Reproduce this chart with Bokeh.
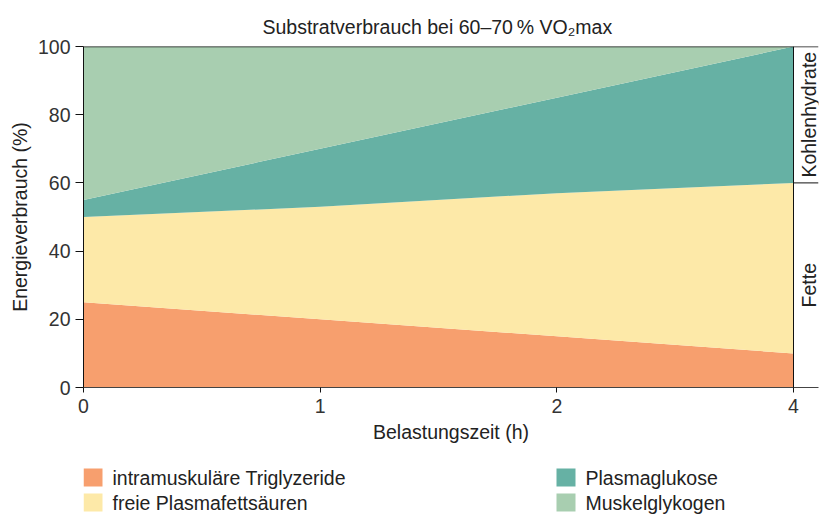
import numpy as np
from bokeh.plotting import figure
from bokeh.layouts import column
from bokeh.models import Range1d, Span, FixedTicker, ColumnDataSource
from bokeh.core.properties import value
from bokeh.embed import file_html
from bokeh.resources import INLINE

# ---- data ----
x_pos = [0, 1, 2, 3]
x_tick_labels = ["0", "1", "2", "4"]
triglyceride = [25, 20, 15, 10]
free_fatty_acids = [25, 33, 42, 50]
plasma_glucose = [5, 17, 28, 40]
muscle_glycogen = [45, 30, 15, 0]
series_names = ["intramuskuläre Triglyzeride", "freie Plasmafettsäuren",
                "Plasmaglukose", "Muskelglykogen"]
colors = ["#F79F6E", "#FDE9A8", "#66B1A4", "#A8CEB0"]
y_ticks = [0, 20, 40, 60, 80, 100]
title_text = "Substratverbrauch bei 60\u201370\u2009% VO\u2082max"
x_label = "Belastungszeit (h)"
y_label = "Energieverbrauch (%)"
group_labels = ["Kohlenhydrate", "Fette"]

FONT = "Liberation Sans"
FS = "19.5px"
TXT = "#222222"

keys = ["tri", "ffa", "glu", "gly"]
source = ColumnDataSource(dict(x=x_pos, tri=triglyceride, ffa=free_fatty_acids,
                               glu=plasma_glucose, gly=muscle_glycogen))

W = 822
MAIN_H = 451
LEG_H = 515 - MAIN_H
BL, BR, BT, BB = 83, 4, 46, 64
frame_w = W - BL - BR
data_w = 710.0
x_end = x_pos[-1] * frame_w / data_w

p = figure(width=W, height=MAIN_H, x_range=Range1d(0, x_end), y_range=Range1d(0, 100),
           output_backend="svg", toolbar_location=None,
           min_border_left=BL, min_border_right=BR, min_border_top=BT, min_border_bottom=BB)
p.outline_line_color = None
p.grid.grid_line_color = None
p.background_fill_color = "white"

renderers = p.varea_stack(stackers=keys, x="x", color=colors, source=source)

# title
p.title.text = title_text
p.title.align = "left"
p.title.offset = 179
p.title.text_font = FONT
p.title.text_font_size = FS
p.title.text_font_style = "normal"
p.title.text_color = TXT
p.title.standoff = 18

# axes
p.xaxis.ticker = FixedTicker(ticks=x_pos)
p.xaxis.major_label_overrides = {x: l for x, l in zip(x_pos, x_tick_labels)}
p.yaxis.ticker = FixedTicker(ticks=y_ticks)
p.axis.minor_tick_line_color = None
p.axis.major_tick_in = 0
p.xaxis.major_tick_out = 5
p.yaxis.major_tick_out = 8
p.axis.axis_line_color = "#111111"
p.axis.major_tick_line_color = "#111111"
p.xaxis.axis_line_color = "#444444"
p.axis.major_label_text_font = FONT
p.axis.major_label_text_font_size = FS
p.axis.major_label_text_color = "#333333"
p.axis.axis_label_text_font = FONT
p.axis.axis_label_text_font_size = FS
p.axis.axis_label_text_font_style = "normal"
p.axis.axis_label_text_color = TXT
p.xaxis.axis_label = x_label
p.yaxis.axis_label = y_label
p.xaxis.major_label_standoff = 6
p.yaxis.major_label_standoff = 5
p.xaxis.axis_label_standoff = 5
p.yaxis.axis_label_standoff = 4

# frame lines and bracket
p.add_layout(Span(location=y_ticks[-1], dimension="width", line_color="#111111", line_width=1.5))
p.add_layout(Span(location=x_pos[-1], dimension="height", line_color="#111111", line_width=1))
fat_end = triglyceride[-1] + free_fatty_acids[-1]
p.segment(x0=[x_pos[-1]], x1=[x_end], y0=[fat_end], y1=[fat_end], line_color="#111111", line_width=1)
label_x = x_pos[-1] + 0.6 * (x_end - x_pos[-1])
p.text(x=[label_x, label_x], y=[(fat_end + 100) / 2, fat_end / 2], text=group_labels,
       angle=np.pi / 2, text_align="center", text_baseline="middle",
       text_font=value(FONT), text_font_size=FS, text_color=TXT)

# ---- legend strip (its frame is aligned with the main frame by the column layout) ----
leg = figure(width=W, height=LEG_H, x_range=Range1d(BL, W - BR), y_range=Range1d(0, LEG_H),
             output_backend="svg", toolbar_location=None, min_border=0,
             min_border_left=BL, min_border_right=BR,
             x_axis_type=None, y_axis_type=None)
leg.outline_line_color = None
leg.grid.grid_line_color = None
col_left = [83, 556]
row_center = [LEG_H - 26, LEG_H - 51]
sw_x = [col_left[i // 2] + 9.5 for i in range(len(series_names))]
sw_y = [row_center[i % 2] for i in range(len(series_names))]
tx_x = [col_left[i // 2] + 29 for i in range(len(series_names))]
leg.rect(x=sw_x, y=sw_y, width=19, height=18, width_units="screen", height_units="screen",
         fill_color=colors, line_color=None)
leg.text(x=tx_x, y=sw_y, text=series_names, text_align="left", text_baseline="middle",
         text_font=value(FONT), text_font_size=FS, text_color=TXT)

open("out.html", "w").write(file_html(column(p, leg, spacing=0), INLINE))
